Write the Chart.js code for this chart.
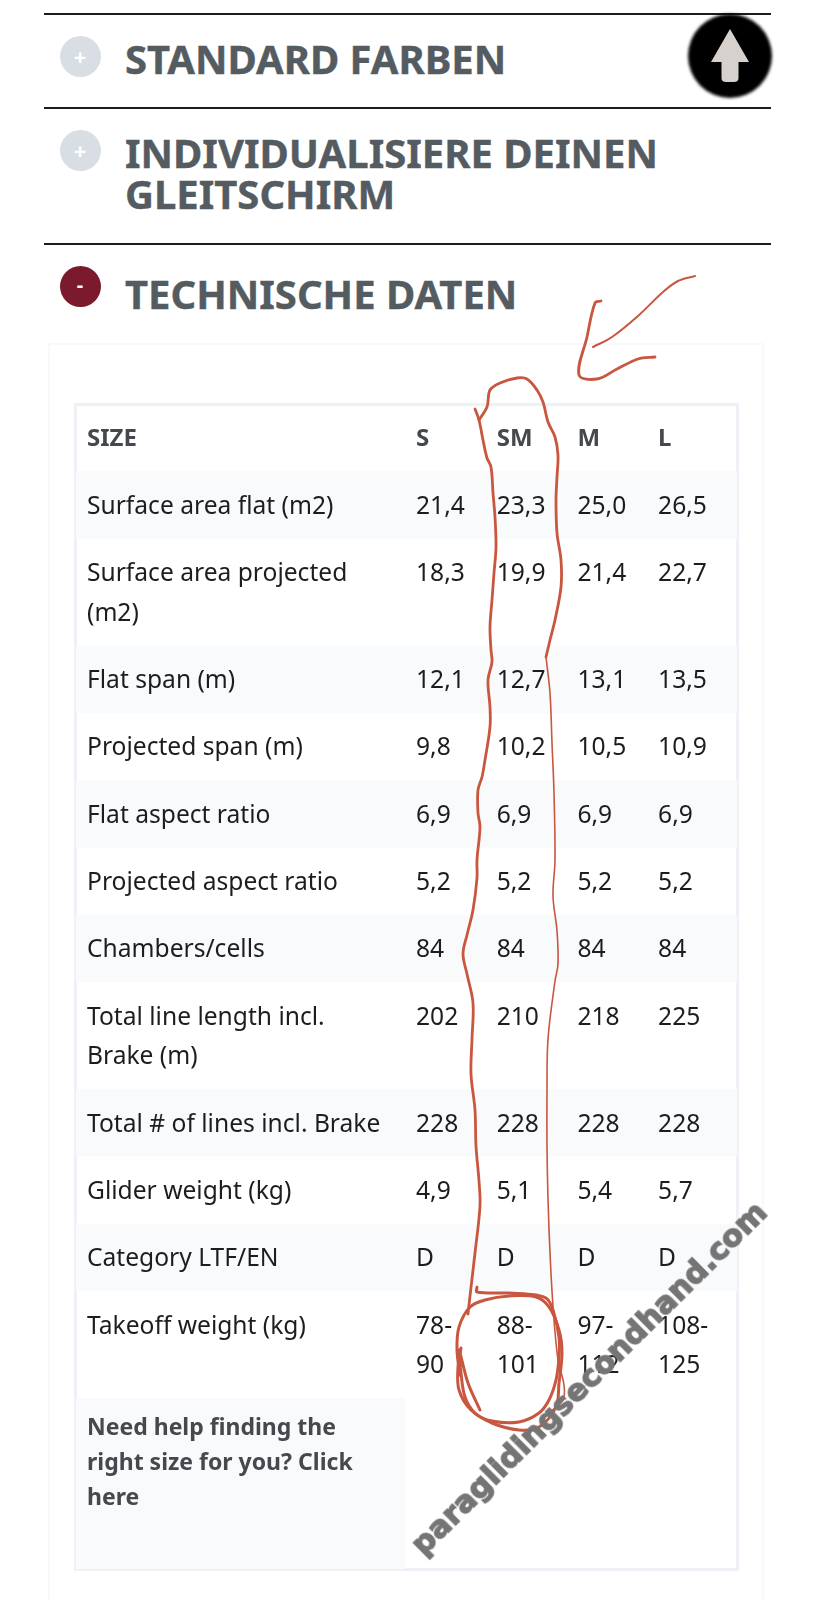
<!DOCTYPE html>
<html><head><meta charset="utf-8">
<script src="https://cdn.jsdelivr.net/npm/chart.js@4"></script>
<style>
html,body{margin:0;padding:0;background:#fff}
#page{position:relative;width:813px;height:1600px;overflow:hidden;background:#fff;font-family:"Noto Sans",sans-serif}
.rule{position:absolute;left:44px;width:727px;height:2px;background:#1c1c1c}
h2{position:absolute;left:125px;margin:0;font:700 40px/41px "Noto Sans",sans-serif;color:#545b61;-webkit-text-stroke:.4px #545b61;white-space:nowrap}
.dot{position:absolute;left:59.5px;width:41px;height:41px;border-radius:50%;background:#d9dee4;color:#fff;text-align:center;font:700 22px/41px "Noto Sans",sans-serif}
.dot.on{background:#7b1a2c;font-size:20px;line-height:38px}
#card{position:absolute;left:48px;top:343px;width:716px;height:1260px;border:2px solid #f8f9fa;box-sizing:border-box}
#box{position:absolute;left:74px;top:403px;width:665px;height:1168px;border:3px solid #eef1f5;box-sizing:border-box}
canvas{position:absolute;left:0;top:0}
#up{position:absolute;left:684px;top:10px;width:92px;height:92px;z-index:5}
#wm{position:absolute;left:406px;top:1539px;transform-origin:0 0;transform:rotate(-44.8deg);font:700 30.500px/1 "DejaVu Sans",sans-serif;color:#757575;-webkit-text-stroke:1.400px #757575;white-space:nowrap;z-index:6}
</style></head><body>
<div id="page">
<div class="rule" style="top:13px"></div>
<div class="rule" style="top:107px"></div>
<div class="rule" style="top:243px"></div>
<div class="dot" style="top:36px">+</div><h2 style="top:38px">STANDARD FARBEN</h2>
<div class="dot" style="top:130px">+</div><h2 style="top:132px">INDIVIDUALISIERE DEINEN<br>GLEITSCHIRM</h2>
<div class="dot on" style="top:266px">-</div><h2 style="top:273px">TECHNISCHE DATEN</h2>
<div id="card"></div><div id="box"></div>
<canvas id="table" width="813" height="1600"></canvas>
<canvas id="ink" width="813" height="1600"></canvas>
<svg id="up" viewBox="0 0 92 92"><defs><filter id="b"><feGaussianBlur stdDeviation="1.800"/></filter></defs>
<circle cx="46" cy="46" r="42" fill="#000" filter="url(#b)"/>
<path d="M46 19 L65 52 H54.500 V68 Q54.500 72 50 72 H42 Q37.500 72 37.500 68 V52 H27 Z" fill="#d6d1cc"/></svg>
<div id="wm">paraglidingsecondhand.com</div>
</div>
<script>
const sizes = ['S','SM','M','L'];
const rowLabels = [
  'Surface area flat (m2)',
  ['Surface area projected','(m2)'],
  'Flat span (m)',
  'Projected span (m)',
  'Flat aspect ratio',
  'Projected aspect ratio',
  'Chambers/cells',
  ['Total line length incl.','Brake (m)'],
  'Total # of lines incl. Brake',
  'Glider weight (kg)',
  'Category LTF/EN',
  'Takeoff weight (kg)'
];
const rowLines = [1,2,1,1,1,1,1,2,1,1,1,2];
const sizeS  = ['21,4','18,3','12,1','9,8','6,9','5,2','84','202','228','4,9','D','78-90'];
const sizeSM = ['23,3','19,9','12,7','10,2','6,9','5,2','84','210','228','5,1','D','88-101'];
const sizeM  = ['25,0','21,4','13,1','10,5','6,9','5,2','84','218','228','5,4','D','97-112'];
const sizeL  = ['26,5','22,7','13,5','10,9','6,9','5,2','84','225','228','5,7','D','108-125'];
const headLabel = 'SIZE';
const helpLabel = ['Need help finding the','right size for you? Click','here'];

// Hand-drawn annotation strokes
const inkShaft = [[695,276],[678,281],[663,292],[638,316],[612,337],[593,347]];
const inkHead = [[601,301],[595,303],[587,337],[579,375],[597,379],[617,369],[638,359],[655,357]];
const inkLeft = [[475,409],[479,420],[483,440],[487,458],[491,467],[493,493],[495,517],[496,547],[494,573],[492,600],[490,627],[491,650],[492,662],[488,680],[490,707],[490,727],[485,760],[482,777],[478,790],[478,813],[480,827],[477,860],[477,878],[473,910],[467,935],[463,954],[467,974],[473,1003],[472,1039],[471,1074],[475,1110],[476,1146],[479,1181],[480,1206],[475,1253],[470,1296],[468,1314]];
const inkRightTop = [[479,420],[487,407],[490,390],[500,383],[517,378],[527,379],[537,390],[543,402],[548,422],[555,437],[558,455],[557,477],[556,500],[557,533],[561,560],[561,587],[555,620],[550,640],[546,657]];
const inkRightThin = [[546,657],[550,693],[552,743],[554,793],[555,860],[553,896],[557,931],[558,964],[555,981],[548,1039],[547,1092],[547,1146],[548,1199],[550,1253],[553,1306],[558,1360],[564,1385],[563,1400],[549,1413]];
const inkLoopA = [[477,1287],[477,1292],[509,1293],[526,1294],[546,1298],[553,1310],[559,1337],[559,1357],[556,1380],[549,1400],[539,1413],[519,1422],[492,1421],[475,1413],[465,1397],[461,1373],[459,1350],[468,1383],[480,1410]];
const inkLoopB = [[461,1348],[458,1367],[459,1390],[471,1410],[492,1423],[519,1430],[539,1427],[556,1407],[559,1383],[562,1353],[559,1330],[549,1307],[536,1297],[509,1296],[485,1300],[470,1307],[459,1327],[457,1350],[460,1375]];

// Table layout (units: one single-line row)
const rowPx = 67.3, lineUnit = 39.8 / rowPx, textOffset = 0.525;
const tableTop = 404, tableBottom = 1571, tableLeft = 76, tableRight = 737, labelCellRight = 405;
const rows = [{label: headLabel, lines: 1}].concat(rowLabels.map((l, i) => ({label: l, lines: rowLines[i]})));
let cursor = 0;
rows.forEach(r => {
  const labelLines = Array.isArray(r.label) ? r.label.length : 1;
  r.start = cursor; r.first = cursor + textOffset; r.height = 1 + (r.lines - 1) * lineUnit;
  r.mid = r.first + (labelLines - 1) * lineUnit / 2; cursor += r.height;
});
const helpStart = cursor, helpMid = cursor + 0.97;
const yEnd = (tableBottom - tableTop) / rowPx;
const tickMap = rows.map(r => ({value: r.mid, label: r.label, bold: r.label === headLabel}));
tickMap.push({value: helpMid, label: helpLabel, bold: true, help: true});

const series = [sizeS, sizeSM, sizeM, sizeL].map((vals, c) => ({
  label: sizes[c], parsing: false, pointRadius: 0, showLine: false,
  data: vals.map((v, i) => ({x: c, y: rows[i + 1].first})), texts: vals
}));

const tablePlugin = {
  id: 'tableCells',
  beforeDraw(chart) {
    const {ctx, scales: {y}} = chart;
    ctx.save(); ctx.fillStyle = '#f9fafc';
    rows.forEach((r, i) => { if (i % 2 === 1) ctx.fillRect(tableLeft, y.getPixelForValue(r.start), tableRight - tableLeft, y.getPixelForValue(r.start + r.height) - y.getPixelForValue(r.start)); });
    ctx.fillRect(tableLeft, y.getPixelForValue(helpStart), labelCellRight - tableLeft, y.getPixelForValue(yEnd) - y.getPixelForValue(helpStart) - 2);
    ctx.restore();
  },
  afterDatasetsDraw(chart) {
    const {ctx, scales: {x, y}} = chart;
    ctx.save(); ctx.textAlign = 'left'; ctx.textBaseline = 'middle';
    ctx.font = '700 24px "Noto Sans"'; ctx.fillStyle = '#45494d';
    sizes.forEach((s, c) => ctx.fillText(s, x.getPixelForValue(c) - 0.5, y.getPixelForValue(rows[0].first)));
    ctx.font = '400 24.6px "Noto Sans"'; ctx.fillStyle = '#1d1d1f';
    chart.data.datasets.forEach(ds => ds.data.forEach((p, i) => {
      const parts = ds.texts[i].includes('-') ? [ds.texts[i].split('-')[0] + '-', ds.texts[i].split('-')[1]] : [ds.texts[i]];
      parts.forEach((t, k) => ctx.fillText(t, x.getPixelForValue(p.x) - 0.5, y.getPixelForValue(p.y + k * lineUnit)));
    }));
    ctx.restore();
  }
};

new Chart(document.getElementById('table'), {
  type: 'scatter',
  data: {datasets: series},
  plugins: [tablePlugin],
  options: {
    responsive: false, animation: false, devicePixelRatio: 1,
    layout: {padding: {left: 87, top: tableTop, right: 813 - 739, bottom: 1600 - tableBottom}},
    plugins: {legend: {display: false}, tooltip: {enabled: false}},
    scales: {
      x: {type: 'linear', display: false, min: (405 - 416.5) / 80.7, max: (739 - 416.5) / 80.7},
      y: {
        type: 'linear', reverse: true, min: 0, max: yEnd,
        grid: {display: false}, border: {display: false},
        afterBuildTicks: s => { s.ticks = tickMap.map(t => ({value: t.value})); },
        afterFit: s => { s.width = 318; },
        ticks: {
          autoSkip: false, padding: 0, crossAlign: 'far', maxRotation: 0,
          callback: (v, i) => tickMap[i].label,
          color: c => tickMap[c.index] && tickMap[c.index].bold ? '#45494d' : '#1d1d1f',
          font: c => {
            const t = tickMap[c.index] || {};
            return {family: '"Noto Sans"', size: t.help ? 23 : t.bold ? 24 : 24.6, weight: t.bold ? 700 : 400, lineHeight: t.help ? 35 / 23 : 39.8 / 24.6};
          }
        }
      }
    }
  }
});

const ink = (pts, w) => ({data: pts.map(p => ({x: p[0], y: p[1]})), borderColor: '#c9563f', borderWidth: w, pointRadius: 0, tension: 0.35, fill: false, borderCapStyle: 'round', borderJoinStyle: 'round'});
new Chart(document.getElementById('ink'), {
  type: 'scatter',
  data: {datasets: [ink(inkShaft, 2), ink(inkHead, 2.8), ink(inkLeft, 2.8), ink(inkRightTop, 2.8), ink(inkRightThin, 1.6), ink(inkLoopA, 3), ink(inkLoopB, 3)].map(d => Object.assign(d, {showLine: true}))},
  options: {
    responsive: false, animation: false, devicePixelRatio: 1,
    layout: {padding: 0},
    plugins: {legend: {display: false}, tooltip: {enabled: false}},
    scales: {
      x: {type: 'linear', display: false, min: 0, max: 813},
      y: {type: 'linear', display: false, min: 0, max: 1600, reverse: true}
    }
  }
});
</script>
</body></html>
